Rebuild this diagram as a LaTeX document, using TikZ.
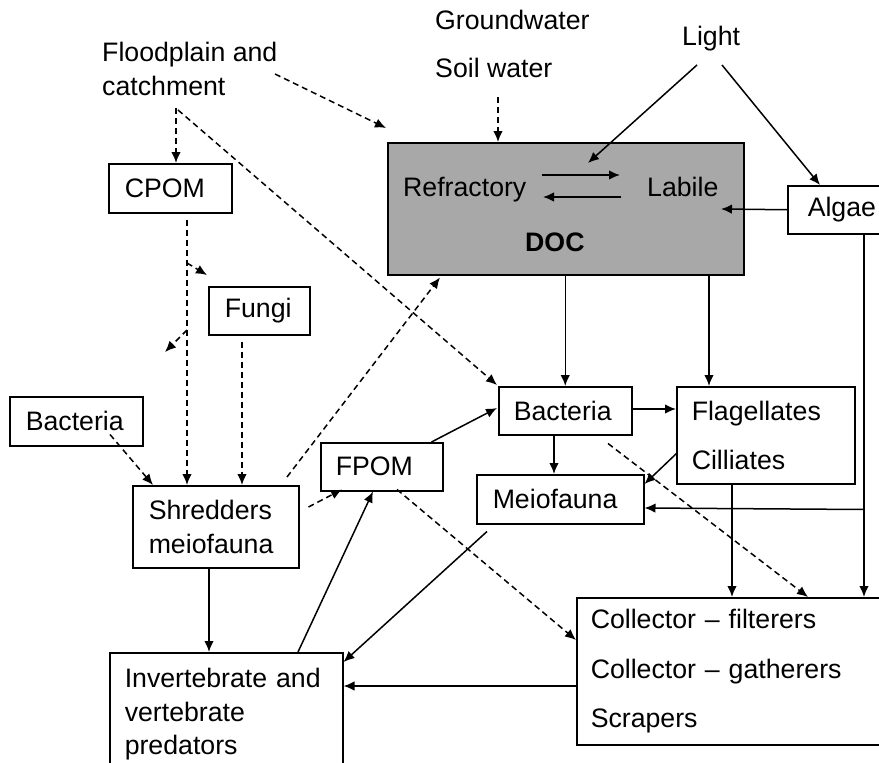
\documentclass[tikz,border=0pt]{standalone}
\usepackage{fontspec}
\setmainfont{Liberation Sans}
\usetikzlibrary{arrows.meta,calc}
\definecolor{docgray}{RGB}{168,168,168}
\newcommand\fs{\fontsize{26.7}{33.5}\selectfont}
\newcommand\fsw{\fontsize{26.7}{49.5}\selectfont}
\begin{document}
\begin{tikzpicture}[x=1pt,y=-1pt,
  box/.style={draw, line width=1.5pt, inner ysep=0pt, align=left, anchor=north west, font=\fs},
  txt/.style={inner sep=0pt, font=\fs, anchor=base west},
  arr/.style={line width=1.5pt, -{Latex[length=11pt,width=9.5pt]}},
  darr/.style={arr, dash pattern=on 6pt off 4pt},
]
\useasboundingbox (0,0) rectangle (879,763);

% free texts
\node[txt] (ground) at (435,29) {Groundwater};
\node[txt] (soil) at (435,77) {Soil water};
\node[txt] (light) at (682,45) {Light};
\node[inner sep=0pt, font=\fs, align=left, anchor=north west] (flood) at (102,42) {Floodplain and\\catchment};

% boxes
\node[box, fill=docgray, minimum width=356, minimum height=132, inner xsep=0pt] (doc) at (387,142) {};
\node[txt] (refr) at (403,196) {Refractory};
\node[txt] (lab) at (647,196) {Labile};
\node[txt, font=\fs\bfseries] (doclab) at (525,251) {DOC};

\node[box, minimum width=123, minimum height=49, inner xsep=16, text width=91] (cpom) at (108,163) {CPOM};
\node[box, minimum width=101, minimum height=48, inner xsep=16, text width=69] (fungi) at (208,286) {Fungi};
\node[box, minimum width=133, minimum height=49, inner xsep=16, text width=101] (bacl) at (9,396) {Bacteria};
\node[box, minimum width=166, minimum height=82, inner xsep=16, text width=134] (shred) at (132,485) {Shredders\\meiofauna};
\node[box, minimum width=122, minimum height=48, inner xsep=15, text width=92] (fpom) at (320,442) {FPOM};
\node[box, minimum width=233, minimum height=123, inner xsep=15, text width=203] (inv) at (109,652) {Invertebrate and\\vertebrate\\predators};
\node[box, minimum width=133, minimum height=48, inner xsep=15, text width=103] (bacm) at (498,386) {Bacteria};
\node[box, minimum width=178, minimum height=97, inner xsep=15, text width=148, font=\fsw] (flag) at (676,386) {Flagellates\\Cilliates};
\node[box, minimum width=167, minimum height=49, inner xsep=16, text width=135] (meio) at (476,474) {Meiofauna};
\node[box, minimum width=130, minimum height=48, inner xsep=20, text width=90] (algae) at (787,185) {Algae};
\node[box, minimum width=340, minimum height=147, inner xsep=14, text width=312, font=\fsw] (coll) at (576,597) {Collector – filterers\\Collector – gatherers\\Scrapers};

% free connector ends
\coordinate (f1) at (275,74);
\coordinate (f2) at (176,108);
\coordinate (f3) at (178,110);
\coordinate (sw) at (498,97);
\coordinate (l1) at (697,65);
\coordinate (l2) at (722,65);
\coordinate (s1) at (187,263);
\coordinate (s2) at (207,275);
\coordinate (s3) at (187,330);
\coordinate (s4) at (165,352);

% connectors
\draw[darr] (f1) -- ($(doc.north west)+(-1,-14)$);
\draw[darr] (f2) -- ($(cpom.north west)+(68,0)$);
\draw[darr] (f3) -- ($(bacm.north west)+(-1,-1)$);
\draw[darr] (sw) -- ($(doc.north west)+(111,0)$);
\draw[arr] (l1) -- ($(doc.north west)+(201,21)$);
\draw[arr] (l2) -- ($(algae.north west)+(33,0)$);
\draw[arr] (algae.west) -- ($(doc.north west)+(334,67)$);
\draw[arr] ($(doc.north west)+(155,33)$) -- ($(doc.north west)+(233,33)$);
\draw[arr] ($(doc.north west)+(234,55)$) -- ($(doc.north west)+(156,55)$);

\draw[darr] ($(cpom.south west)+(79,6)$) -- ($(shred.north west)+(55,0)$);
\draw[darr] (s1) -- (s2);
\draw[darr] (s3) -- (s4);
\draw[darr] ($(fungi.south west)+(34,6)$) -- ($(shred.north west)+(110,0)$);
\draw[darr] ($(bacl.south west)+(101,-12)$) -- ($(shred.north west)+(21,0)$);
\draw[darr] ($(shred.north west)+(155,-8)$) -- ($(doc.south west)+(53,2)$);
\draw[darr] ($(shred.north east)+(9,22)$) -- ($(fpom.south west)+(22,-2)$);
\draw[arr] ($(shred.south west)+(77,0)$) -- ($(inv.north west)+(100,0)$);
\draw[arr] ($(inv.north west)+(189,0)$) -- ($(fpom.south west)+(53,0)$);
\draw[arr] ($(fpom.north east)+(-12,0)$) -- ($(bacm.north west)+(-1,22)$);
\draw[darr] ($(fpom.south west)+(77,-2)$) -- ($(coll.north west)+(0,43)$);

\draw[arr] (bacm.north |- doc.south) -- (bacm.north);
\draw[arr] ($(doc.south west)+(322,0)$) -- ($(flag.north west)+(33,0)$);
\draw[arr] ($(bacm.north east)+(0,23)$) -- ($(flag.north west)+(0,23)$);
\draw[arr] ($(bacm.south west)+(56,0)$) -- ($(meio.north west)+(78,0)$);
\draw[arr] ($(flag.north west)+(1,67)$) -- ($(meio.north east)+(0,10)$);
\draw[arr] ($(algae.south west)+(77,0)$) -- ($(coll.north west)+(288,0)$);
\draw[arr] ($(algae.south west)+(77,275)$) -- ($(meio.north east)+(0,34)$);
\draw[arr] ($(flag.south west)+(56,0)$) -- ($(coll.north west)+(156,0)$);
\draw[darr] ($(bacm.south west)+(110,8)$) -- ($(coll.north west)+(232,0)$);
\draw[arr] ($(meio.south west)+(11,7)$) -- ($(inv.north east)+(0,10)$);
\draw[arr] ($(coll.north west)+(0,89)$) -- ($(inv.north east)+(0,34)$);
\end{tikzpicture}
\end{document}
